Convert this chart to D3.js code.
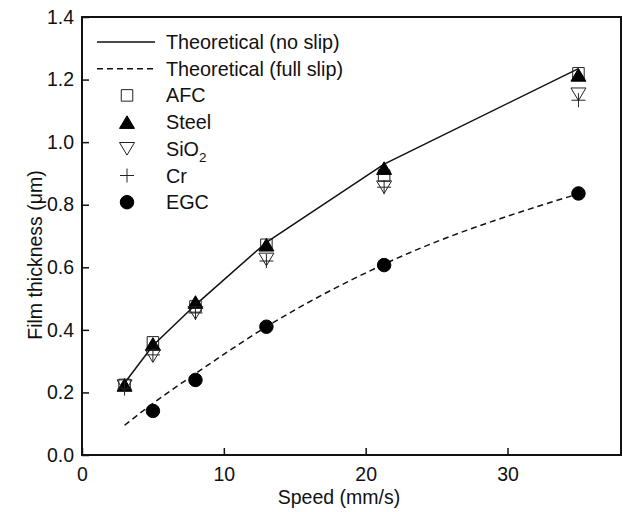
<!DOCTYPE html>
<html>
<head>
<meta charset="utf-8">
<script src="https://cdn.jsdelivr.net/npm/d3@7"></script>
<style>
  html, body { margin: 0; padding: 0; background: #fff; }
  svg { display: block; font-family: 'Liberation Sans', Arial, sans-serif; }
  .axis path, .axis line { stroke: #111; }
  .axis text { font-size: 19.5px; fill: #111; font-family: 'Liberation Sans', Arial, sans-serif; }
</style>
</head>
<body>
<svg id="chart" width="623" height="512"></svg>
<script>
// DATA
const speeds = [3, 5, 8, 13, 21.3, 35];
const noSlip = [0.23, 0.35, 0.48, 0.68, 0.93, 1.235];
const fullSlip = [0.095, 0.165, 0.26, 0.41, 0.61, 0.835];
const afc = [0.224, 0.36, 0.475, 0.672, 0.893, 1.22];
const steel = [0.224, 0.355, 0.489, 0.672, 0.917, 1.215];
const sio2 = [0.22, 0.316, 0.454, 0.625, 0.856, 1.153];
const cr = [0.212, 0.32, 0.454, 0.62, 0.856, 1.134];
const egcSpeeds = [5, 8, 13, 21.3, 35];
const egc = [0.141, 0.24, 0.41, 0.607, 0.836];
const xTicks = [0, 10, 20, 30];
const yTicks = [0, 0.2, 0.4, 0.6, 0.8, 1.0, 1.2, 1.4];

// SETUP
let svg = d3.select('svg'),
  margin = { top: 17, right: 2, bottom: 57, left: 82 },
  width = 623 - margin.left - margin.right,
  height = 512 - margin.top - margin.bottom,
  x = d3.scaleLinear().domain([0, 38]).range([0, width]),
  y = d3.scaleLinear().domain([0, 1.4]).range([height, 0]);

let g = svg.append('g')
  .attr('transform', 'translate(' + margin.left + ',' + margin.top + ')');

// MARKER SHAPES
const triUp = {
  draw(ctx, s) {
    ctx.moveTo(0, -s * 0.42); ctx.lineTo(s * 0.5, s * 0.42); ctx.lineTo(-s * 0.5, s * 0.42); ctx.closePath();
  }
};
const triDown = {
  draw(ctx, s) {
    ctx.moveTo(0, s * 0.42); ctx.lineTo(s * 0.5, -s * 0.42); ctx.lineTo(-s * 0.5, -s * 0.42); ctx.closePath();
  }
};
const box = {
  draw(ctx, s) { ctx.rect(-s / 2, -s / 2, s, s); }
};
const plus = {
  draw(ctx, s) {
    ctx.moveTo(-s / 2, 0); ctx.lineTo(s / 2, 0); ctx.moveTo(0, -s / 2); ctx.lineTo(0, s / 2);
  }
};
const dot = {
  draw(ctx, s) { ctx.moveTo(s / 2, 0); ctx.arc(0, 0, s / 2, 0, 2 * Math.PI); }
};

const series = [
  { name: 'AFC', xs: speeds, vals: afc, type: box, size: 11.5, fill: 'none', stroke: '#222' },
  { name: 'Steel', xs: speeds, vals: steel, type: triUp, size: 15, fill: '#000', stroke: '#000' },
  { name: 'SiO2', xs: speeds, vals: sio2, type: triDown, size: 15, fill: 'none', stroke: '#222' },
  { name: 'Cr', xs: speeds, vals: cr, type: plus, size: 14, fill: 'none', stroke: '#222' },
  { name: 'EGC', xs: egcSpeeds, vals: egc, type: dot, size: 13.5, fill: '#000', stroke: '#000' }
];

// AXES
g.append('g')
  .attr('class', 'axis axis--x')
  .attr('transform', 'translate(0,' + height + ')')
  .call(d3.axisBottom(x).tickValues(xTicks).tickSizeInner(-7).tickSizeOuter(0).tickPadding(12).tickFormat(d3.format('d')))
  .call(a => a.select('.domain').remove())
  .call(a => a.selectAll('line').attr('stroke-width', 1.5));

g.append('g')
  .attr('class', 'axis axis--y')
  .call(d3.axisLeft(y).tickValues(yTicks).tickSizeInner(-7).tickSizeOuter(0).tickPadding(8).tickFormat(d3.format('.1f')))
  .call(a => a.select('.domain').remove())
  .call(a => a.selectAll('line').attr('stroke-width', 1.5));

// FRAME
g.append('rect')
  .attr('x', 0).attr('y', 0)
  .attr('width', width).attr('height', height)
  .attr('fill', 'none')
  .attr('stroke', '#111')
  .attr('stroke-width', 2);

// AXIS LABELS
svg.append('text')
  .attr('x', margin.left + 257)
  .attr('y', 504)
  .attr('text-anchor', 'middle')
  .style('font-size', '19.5px')
  .attr('fill', '#111')
  .text('Speed (mm/s)');

svg.append('text')
  .attr('transform', 'translate(42,255)rotate(-90)')
  .attr('text-anchor', 'middle')
  .style('font-size', '19.5px')
  .attr('fill', '#111')
  .text('Film thickness (\u03bcm)');

// THEORY LINES
const line = d3.line()
  .x(d => x(d[0]))
  .y(d => y(d[1]));

g.append('path')
  .datum(d3.zip(speeds, noSlip))
  .attr('d', line)
  .attr('fill', 'none')
  .attr('stroke', '#111')
  .attr('stroke-width', 1.5);

g.append('path')
  .datum(d3.zip(speeds, fullSlip))
  .attr('d', line.curve(d3.curveMonotoneX))
  .attr('fill', 'none')
  .attr('stroke', '#111')
  .attr('stroke-width', 1.5)
  .attr('stroke-dasharray', '6,4');

// MARKERS
series.forEach(s => {
  g.selectAll('.m-' + s.name)
    .data(d3.zip(s.xs, s.vals))
    .enter()
    .append('path')
    .attr('class', 'm-' + s.name)
    .attr('transform', d => 'translate(' + x(d[0]) + ',' + y(d[1]) + ')')
    .attr('d', d3.symbol().type(s.type).size(s.size))
    .attr('fill', s.fill)
    .attr('stroke', s.stroke)
    .attr('stroke-width', 1);
});

// LEGEND
const legend = svg.append('g').attr('transform', 'translate(97,42)');
const rowH = 26.7;

legend.append('line')
  .attr('x1', 0).attr('x2', 58).attr('y1', 0).attr('y2', 0)
  .attr('stroke', '#111').attr('stroke-width', 1.5);
legend.append('line')
  .attr('x1', 0).attr('x2', 58).attr('y1', rowH).attr('y2', rowH)
  .attr('stroke', '#111').attr('stroke-width', 1.5)
  .attr('stroke-dasharray', '6,4');

series.forEach((s, i) => {
  legend.append('path')
    .attr('transform', 'translate(30,' + (rowH * (i + 2)) + ')')
    .attr('d', d3.symbol().type(s.type).size(s.size))
    .attr('fill', s.fill)
    .attr('stroke', s.stroke)
    .attr('stroke-width', 1);
});

const labels = ['Theoretical (no slip)', 'Theoretical (full slip)', 'AFC', 'Steel', 'SiO2', 'Cr', 'EGC'];
labels.forEach((l, i) => {
  let t = legend.append('text')
    .attr('x', 69)
    .attr('y', rowH * i + 7)
    .style('font-size', '19.8px')
    .attr('fill', '#111');
  if (l === 'SiO2') {
    t.append('tspan').text('SiO');
    t.append('tspan').attr('dy', 6).style('font-size', '13.5px').text('2');
  } else {
    t.text(l);
  }
});
</script>
</body>
</html>
